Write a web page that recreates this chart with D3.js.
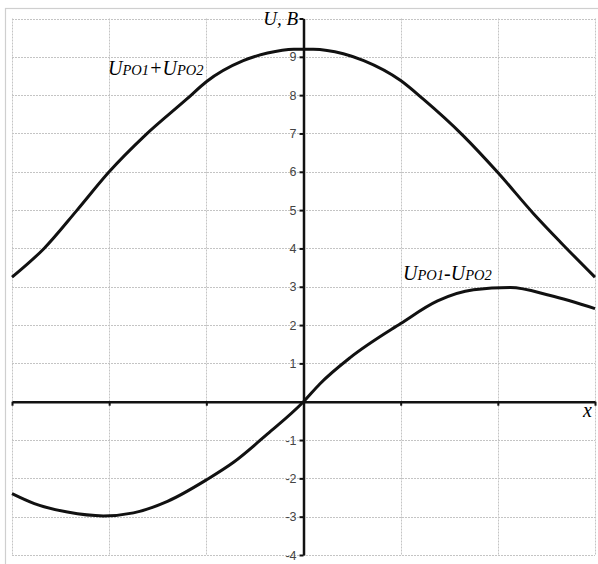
<!DOCTYPE html>
<html>
<head>
<meta charset="utf-8">
<script src="https://cdn.jsdelivr.net/npm/d3@7"></script>
<style>
  body { margin: 0; background: #fff; }
  svg { display: block; }
</style>
</head>
<body>
<div id="chart"></div>
<script>
// Data
const sumX = [-3, -2.67, -2.33, -2, -1.63, -1.2, -1, -0.62, -0.37, -0.1, 0.1, 0.41, 0.62, 1, 1.23, 1.64, 2, 2.37, 2.65, 3];
const sumY = [3.25, 4.0, 5.0, 6.0, 6.95, 7.9, 8.35, 8.9, 9.1, 9.2, 9.2, 9.08, 8.9, 8.38, 7.9, 6.95, 5.98, 4.9, 4.15, 3.25];
const diffX = [-3, -2.77, -2.43, -2.06, -1.75, -1.4, -1, -0.72, -0.37, 0, 0.17, 0.48, 1, 1.38, 1.75, 2.13, 2.54, 3];
const diffY = [-2.4, -2.66, -2.88, -2.98, -2.9, -2.6, -2.04, -1.58, -0.84, 0, 0.47, 1.15, 2.04, 2.63, 2.92, 2.98, 2.77, 2.43];
const yTicks = [-4, -3, -2, -1, 1, 2, 3, 4, 5, 6, 7, 8, 9, 10];
const xTicks = [-3, -2, -1, 0, 1, 2, 3];

const width = 598, height = 564;

const svg = d3.select("#chart")
    .append("svg")
    .attr("width", width)
    .attr("height", height);

// Outer frame
svg.append("rect")
    .attr("x", 5.5).attr("y", 8.5)
    .attr("width", 620).attr("height", 600)
    .attr("fill", "none")
    .attr("stroke", "#cfcfcf")
    .attr("stroke-width", 1.2);

const x = d3.scaleLinear().domain([-3, 3]).range([12, 595]);
const y = d3.scaleLinear().domain([-4, 10]).range([555, 18.5]);

// Grid
const grid = svg.append("g")
    .attr("stroke", "#c4c4c4")
    .attr("stroke-width", 1)
    .attr("stroke-dasharray", "2,1");

grid.selectAll(".h")
    .data(d3.range(-4, 11))
    .join("line")
    .attr("x1", x(-3)).attr("x2", x(3))
    .attr("y1", d => Math.round(y(d)) + 0.5)
    .attr("y2", d => Math.round(y(d)) + 0.5);

grid.selectAll(".v")
    .data(xTicks)
    .join("line")
    .attr("y1", y(10)).attr("y2", y(-4))
    .attr("x1", d => Math.round(x(d)) + 0.5)
    .attr("x2", d => Math.round(x(d)) + 0.5);

// X axis
const xAxis = svg.append("g")
    .attr("transform", `translate(0,${y(0)})`)
    .call(d3.axisBottom(x).tickValues(xTicks).tickSize(4).tickSizeOuter(0).tickFormat(""));
xAxis.select(".domain").attr("stroke", "#111").attr("stroke-width", 2.5);
xAxis.selectAll(".tick line").attr("stroke", "#111").attr("stroke-width", 2);

// Y axis
const yAxis = svg.append("g")
    .attr("transform", `translate(${x(0)},0)`)
    .call(d3.axisLeft(y).tickValues(yTicks).tickSize(4).tickSizeOuter(0)
        .tickFormat(d => d === 10 ? "" : d));
yAxis.select(".domain").attr("stroke", "#111").attr("stroke-width", 2.5);
yAxis.selectAll(".tick line").attr("stroke", "#111").attr("stroke-width", 2);
yAxis.selectAll(".tick text")
    .attr("x", -7)
    .attr("fill", "#444")
    .style("font-family", "'Liberation Sans', Arial, sans-serif")
    .style("font-size", "12.5px");

// Curves
const line = d3.line()
    .x(d => x(d[0]))
    .y(d => y(d[1]))
    .curve(d3.curveMonotoneX);

svg.append("path")
    .datum(d3.zip(sumX, sumY))
    .attr("fill", "none")
    .attr("stroke", "#111")
    .attr("stroke-width", 3)
    .attr("stroke-linejoin", "round")
    .attr("d", line);

svg.append("path")
    .datum(d3.zip(diffX, diffY))
    .attr("fill", "none")
    .attr("stroke", "#111")
    .attr("stroke-width", 3)
    .attr("stroke-linejoin", "round")
    .attr("d", line);

// Labels
const serif = "'Liberation Serif', 'Times New Roman', serif";

svg.append("text")
    .attr("x", 298).attr("y", 25)
    .attr("text-anchor", "end")
    .style("font-family", serif)
    .style("font-style", "italic")
    .style("font-size", "19px")
    .text("U, B");

svg.append("text")
    .attr("x", 592).attr("y", 417)
    .attr("text-anchor", "end")
    .style("font-family", serif)
    .style("font-style", "italic")
    .style("font-size", "20px")
    .text("x");

function curveLabel(px, py, sign) {
    const t = svg.append("text")
        .attr("x", px).attr("y", py)
        .style("font-family", serif)
        .style("font-style", "italic")
        .style("font-size", "20px");
    t.append("tspan").text("U");
    t.append("tspan").style("font-size", "14.5px").text("PO1");
    t.append("tspan").text(sign);
    t.append("tspan").text("U");
    t.append("tspan").style("font-size", "14.5px").text("PO2");
}
curveLabel(108, 75, "+");
curveLabel(403, 280, "-");
</script>
</body>
</html>
